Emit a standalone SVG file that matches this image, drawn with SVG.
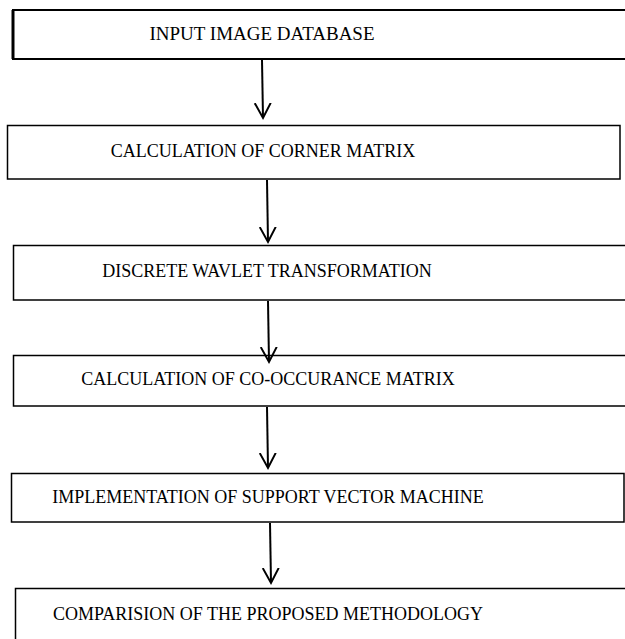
<svg xmlns="http://www.w3.org/2000/svg" width="625" height="639" viewBox="0 0 625 639">
<defs>
<style>
.box{fill:#fff;stroke:#000;stroke-width:1.5}
.lbl{font-family:"Liberation Serif","Times New Roman",serif;font-size:18px;fill:#000;text-anchor:middle}
.conn{stroke:#000;stroke-width:2;fill:none}
</style>
<marker id="arr" markerUnits="userSpaceOnUse" markerWidth="20" markerHeight="20" refX="15" refY="8" orient="auto" viewBox="0 0 20 16">
<path d="M0,0 L15,8 L0,16" fill="none" stroke="#000" stroke-width="2"/>
</marker>
</defs>
<rect width="625" height="639" fill="#fff"/>
<g id="n1"><rect class="box" x="13" y="10" width="630" height="49" style="stroke-width:2"/><line x1="13" y1="10" x2="13" y2="59" stroke="#000" stroke-width="3"/><text class="lbl" x="262" y="40" style="font-size:19px">INPUT IMAGE DATABASE</text></g>
<g id="n2"><rect class="box" x="7.5" y="125.5" width="612.5" height="53.5"/><text class="lbl" x="263" y="157">CALCULATION OF CORNER MATRIX</text></g>
<g id="n3"><rect class="box" x="13.5" y="245.5" width="630" height="54.5"/><text class="lbl" x="267" y="277">DISCRETE WAVLET TRANSFORMATION</text></g>
<g id="n4"><rect class="box" x="13.5" y="355.5" width="630" height="50.5"/><text class="lbl" x="268" y="385">CALCULATION OF CO-OCCURANCE MATRIX</text></g>
<g id="n5"><rect class="box" x="11.5" y="473.5" width="612.5" height="48.5"/><text class="lbl" x="268" y="503">IMPLEMENTATION OF SUPPORT VECTOR MACHINE</text></g>
<g id="n6"><rect class="box" x="15.5" y="588.5" width="630" height="60"/><text class="lbl" x="268" y="620">COMPARISION OF THE PROPOSED METHODOLOGY</text></g>
<g id="connectors">
<line class="conn" x1="262" y1="60" x2="263" y2="118" marker-end="url(#arr)"/>
<line class="conn" x1="267" y1="180" x2="268" y2="242" marker-end="url(#arr)"/>
<line class="conn" x1="268" y1="301" x2="269" y2="362" marker-end="url(#arr)"/>
<line class="conn" x1="267" y1="407" x2="268" y2="468" marker-end="url(#arr)"/>
<line class="conn" x1="270" y1="523" x2="271" y2="583" marker-end="url(#arr)"/>
</g>
</svg>
